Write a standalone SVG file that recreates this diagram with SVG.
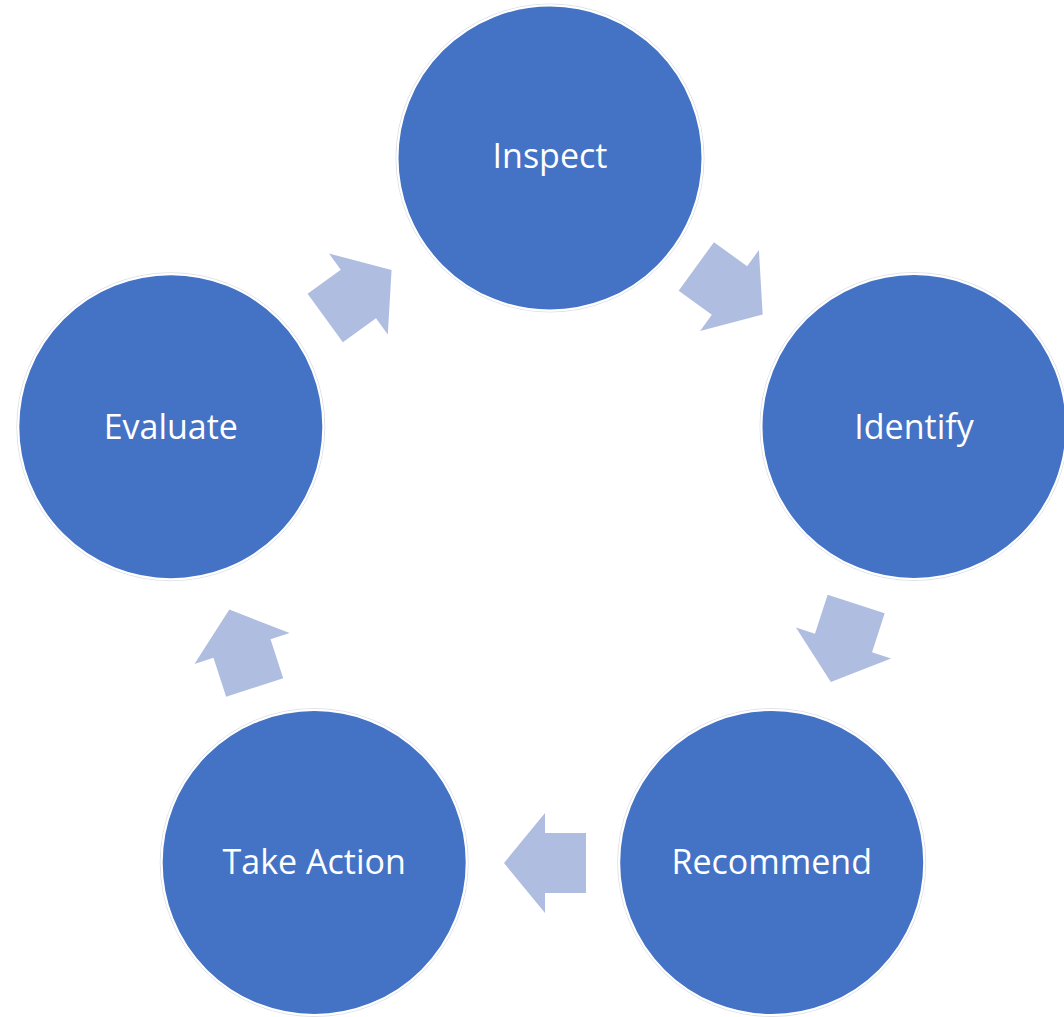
<svg xmlns="http://www.w3.org/2000/svg" width="1064" height="1017" viewBox="0 0 1064 1017">
  <style>
    .node circle.fill { fill: #4472C4; stroke: #ffffff; stroke-width: 2; }
    .node circle.edge { fill: none; stroke: #d4d8e0; stroke-width: 0.8; }
    .node text { font-family: "Open Sans", "DejaVu Sans", sans-serif; font-size: 34px; fill: #ffffff; text-anchor: middle; }
    .arrow { fill: #AFBDE0; }
  </style>
  <defs>
    <polygon id="blockArrow" points="-41,-30 0,-30 0,-50 41,0 0,50 0,30 -41,30"/>
  </defs>
  <rect width="1064" height="1017" fill="#ffffff"/>
  <g id="connectors">
    <use href="#blockArrow" class="arrow" transform="translate(358.4,294) rotate(-36)"/>
    <use href="#blockArrow" class="arrow" transform="translate(729.5,290.5) rotate(36)"/>
    <use href="#blockArrow" class="arrow" transform="translate(843.5,643) rotate(108)"/>
    <use href="#blockArrow" class="arrow" transform="translate(545,863) rotate(180)"/>
    <use href="#blockArrow" class="arrow" transform="translate(242,648.5) rotate(252)"/>
  </g>
  <g id="node-inspect" class="node">
    <circle class="edge" cx="550" cy="158" r="154"/>
    <circle class="fill" cx="550" cy="158" r="152.5"/>
    <text x="550" y="167.5">Inspect</text>
  </g>
  <g id="node-identify" class="node">
    <circle class="edge" cx="914" cy="426.5" r="154"/>
    <circle class="fill" cx="914" cy="426.5" r="152.5"/>
    <text x="914" y="438.5">Identify</text>
  </g>
  <g id="node-recommend" class="node">
    <circle class="edge" cx="771.7" cy="862.5" r="154"/>
    <circle class="fill" cx="771.7" cy="862.5" r="152.5"/>
    <text x="771.7" y="874">Recommend</text>
  </g>
  <g id="node-take-action" class="node">
    <circle class="edge" cx="314.2" cy="862.5" r="154"/>
    <circle class="fill" cx="314.2" cy="862.5" r="152.5"/>
    <text x="314.2" y="874">Take Action</text>
  </g>
  <g id="node-evaluate" class="node">
    <circle class="edge" cx="170.8" cy="426.7" r="154"/>
    <circle class="fill" cx="170.8" cy="426.7" r="152.5"/>
    <text x="170.8" y="438.5">Evaluate</text>
  </g>
</svg>
